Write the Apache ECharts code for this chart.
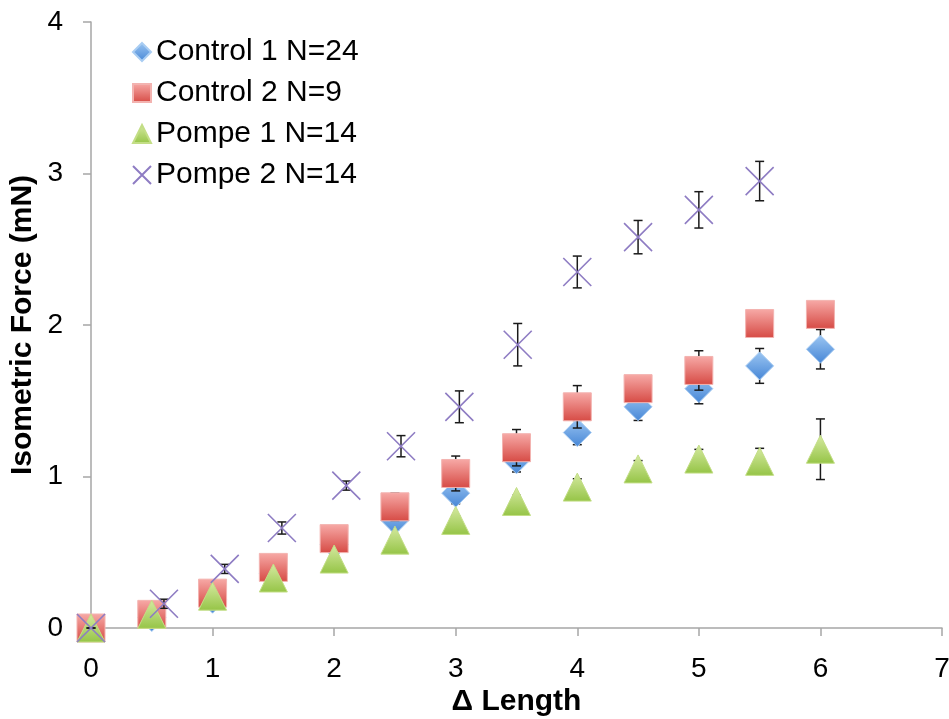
<!DOCTYPE html>
<html>
<head>
<meta charset="utf-8">
<script src="https://cdn.jsdelivr.net/npm/echarts@6/dist/echarts.min.js"></script>
<style>
  html, body { margin: 0; padding: 0; background: #fff; }
  #chart { width: 949px; height: 719px; }
</style>
</head>
<body>
<div id="chart"></div>
<script>
// Δ length positions
const lengths = [0, 0.5, 1, 1.5, 2, 2.5, 3, 3.5, 4, 4.5, 5, 5.5, 6]
const pompe2Lengths = [0, 0.6, 1.1, 1.57, 2.1, 2.55, 3.03, 3.51, 4.0, 4.5, 5.0, 5.5]

// isometric force means (mN) and error
const control1 = [0, 0.07, 0.19, 0.36, 0.55, 0.71, 0.89, 1.11, 1.29, 1.46, 1.58, 1.73, 1.84]
const control1Err = [0, 0.02, 0.03, 0.04, 0.05, 0.06, 0.07, 0.08, 0.08, 0.09, 0.10, 0.115, 0.13]
const control2 = [0, 0.09, 0.23, 0.40, 0.59, 0.80, 1.02, 1.19, 1.46, 1.58, 1.70, 2.01, 2.07]
const control2Err = [0, 0.02, 0.03, 0.04, 0.05, 0.09, 0.115, 0.12, 0.14, 0.08, 0.13, 0.08, 0.08]
const pompe1 = [0, 0.09, 0.21, 0.33, 0.455, 0.58, 0.71, 0.835, 0.93, 1.05, 1.115, 1.10, 1.18]
const pompe1Err = [0, 0.01, 0.02, 0.02, 0.03, 0.03, 0.03, 0.04, 0.055, 0.055, 0.064, 0.086, 0.2]
const pompe2 = [0, 0.16, 0.39, 0.66, 0.94, 1.20, 1.46, 1.87, 2.35, 2.58, 2.76, 2.95]
const pompe2Err = [0, 0.03, 0.03, 0.04, 0.03, 0.07, 0.105, 0.14, 0.105, 0.11, 0.12, 0.13]

const seriesNames = ['Control 1 N=24', 'Control 2 N=9', 'Pompe 1 N=14', 'Pompe 2 N=14']

const FONT = '"Liberation Sans", Arial, sans-serif'
const AXIS_COLOR = '#a6a6a6'

const grad = (top, bottom) => ({
  type: 'linear', x: 0, y: 0, x2: 0, y2: 1,
  colorStops: [{ offset: 0, color: top }, { offset: 1, color: bottom }],
})

const points = (xs, ys) => xs.map((x, i) => [x, ys[i]])
const errPoints = (xs, ys, es) => xs.map((x, i) => [x, ys[i] - es[i], ys[i] + es[i]])

// error bar drawn as a custom series, kept under its own markers
const errorSeries = (name, data, z) => ({
  name: name,
  type: 'custom',
  z: z,
  silent: true,
  data: data,
  renderItem: (params, api) => {
    const lo = api.coord([api.value(0), api.value(1)])
    const hi = api.coord([api.value(0), api.value(2)])
    const cap = 4.5
    const style = { stroke: '#1a1a1a', lineWidth: 1.5 }
    return {
      type: 'group',
      children: [
        { type: 'line', shape: { x1: lo[0], y1: lo[1], x2: hi[0], y2: hi[1] }, style },
        { type: 'line', shape: { x1: lo[0] - cap, y1: lo[1], x2: lo[0] + cap, y2: lo[1] }, style },
        { type: 'line', shape: { x1: hi[0] - cap, y1: hi[1], x2: hi[0] + cap, y2: hi[1] }, style },
      ],
    }
  },
})

const chart = echarts.init(document.getElementById('chart'))

chart.setOption({
  animation: false,
  backgroundColor: '#fff',
  textStyle: { fontFamily: FONT },
  grid: { left: 91, right: 7, top: 22, bottom: 91, containLabel: false, outerBoundsMode: 'none' },
  legend: {
    orient: 'vertical',
    left: 132,
    top: 37,
    padding: 0,
    itemWidth: 18,
    itemHeight: 18,
    itemGap: 11,
    data: seriesNames,
    textStyle: { fontFamily: FONT, fontSize: 30, color: '#000', lineHeight: 30 },
  },
  xAxis: {
    type: 'value',
    min: 0,
    max: 7,
    interval: 1,
    name: 'Δ Length',
    nameLocation: 'middle',
    nameGap: 59,
    nameMoveOverlap: false,
    nameTextStyle: { fontFamily: FONT, fontSize: 30, fontWeight: 'bold', color: '#000' },
    splitLine: { show: false },
    axisLine: { show: true, lineStyle: { color: AXIS_COLOR, width: 1.5 } },
    axisTick: { show: true, length: 8, lineStyle: { color: AXIS_COLOR, width: 1.5 } },
    axisLabel: { fontFamily: FONT, fontSize: 28, color: '#000', margin: 27 },
  },
  yAxis: {
    type: 'value',
    min: 0,
    max: 4,
    interval: 1,
    name: 'Isometric Force (mN)',
    nameLocation: 'middle',
    nameGap: 53,
    nameMoveOverlap: false,
    nameTextStyle: { fontFamily: FONT, fontSize: 30, fontWeight: 'bold', color: '#000' },
    splitLine: { show: false },
    axisLine: { show: true, lineStyle: { color: AXIS_COLOR, width: 1.5 } },
    axisTick: { show: true, length: 8, lineStyle: { color: AXIS_COLOR, width: 1.5 } },
    axisLabel: { fontFamily: FONT, fontSize: 28, color: '#000', margin: 28 },
  },
  series: [
    errorSeries('c1err', errPoints(lengths, control1, control1Err), 1),
    {
      name: seriesNames[0],
      type: 'scatter',
      z: 2,
      symbol: 'diamond',
      symbolSize: 28,
      itemStyle: { color: grad('#9cc6f2', '#4686d6'), borderColor: '#a9cdf3', borderWidth: 1, opacity: 1 },
      data: points(lengths, control1),
    },
    errorSeries('c2err', errPoints(lengths, control2, control2Err), 3),
    {
      name: seriesNames[1],
      type: 'scatter',
      z: 4,
      symbol: 'rect',
      symbolSize: 28,
      itemStyle: { color: grad('#f7aaa7', '#d64a44'), borderColor: '#f3b3b0', borderWidth: 1, opacity: 1 },
      data: points(lengths, control2),
    },
    errorSeries('p1err', errPoints(lengths, pompe1, pompe1Err), 5),
    {
      name: seriesNames[2],
      type: 'scatter',
      z: 6,
      symbol: 'triangle',
      symbolSize: 28,
      itemStyle: { color: grad('#d6eaa2', '#95c446'), borderColor: '#c3de86', borderWidth: 1, opacity: 1 },
      data: points(lengths, pompe1),
    },
    errorSeries('p2err', errPoints(pompe2Lengths, pompe2, pompe2Err), 7),
    {
      name: seriesNames[3],
      type: 'scatter',
      z: 8,
      symbol: 'path://M0,0L10,10M10,0L0,10',
      symbolSize: 28,
      itemStyle: { color: 'transparent', borderColor: '#8e7cc3', borderWidth: 1.6, opacity: 1 },
      data: points(pompe2Lengths, pompe2),
    },
  ],
})
</script>
</body>
</html>
